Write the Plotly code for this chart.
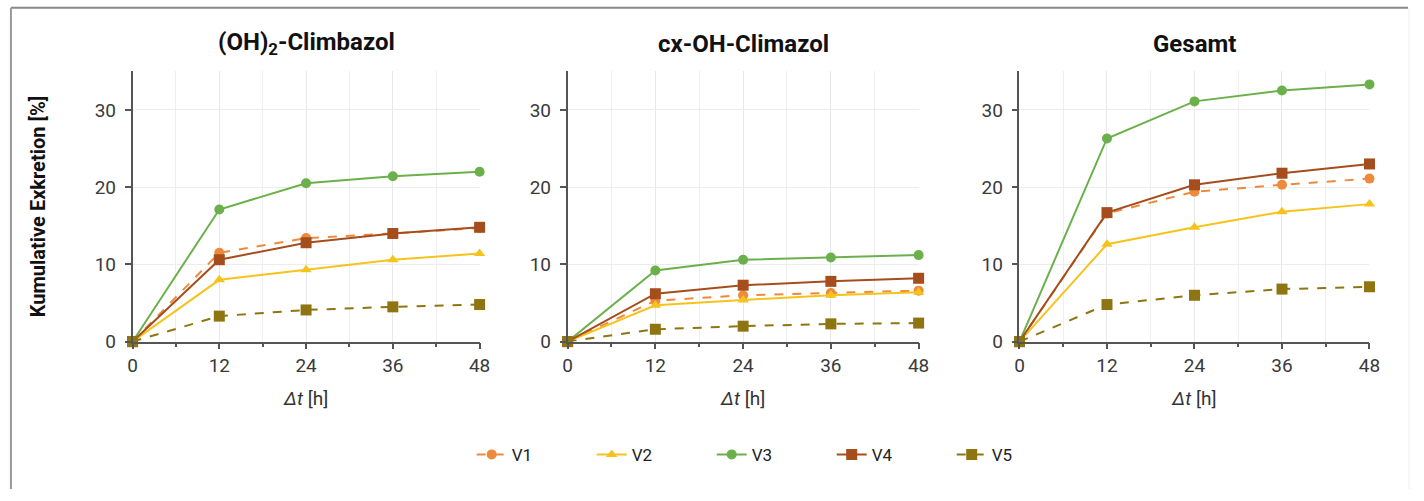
import plotly.graph_objects as go

hours = [0, 12, 24, 36, 48]
panel_titles = ["(OH)<sub>2</sub>-Climbazol", "cx-OH-Climazol", "Gesamt"]
series_names = ["V1", "V2", "V3", "V4", "V5"]

# panel 1: (OH)2-Climbazol
p1_v1 = [0, 11.5, 13.4, 14.0, 14.7]
p1_v2 = [0, 8.0, 9.3, 10.6, 11.4]
p1_v3 = [0, 17.1, 20.5, 21.4, 22.0]
p1_v4 = [0, 10.6, 12.8, 14.0, 14.8]
p1_v5 = [0, 3.3, 4.1, 4.5, 4.8]
# panel 2: cx-OH-Climazol
p2_v1 = [0, 5.3, 6.0, 6.3, 6.6]
p2_v2 = [0, 4.7, 5.4, 6.0, 6.4]
p2_v3 = [0, 9.2, 10.6, 10.9, 11.2]
p2_v4 = [0, 6.2, 7.3, 7.8, 8.2]
p2_v5 = [0, 1.6, 2.0, 2.3, 2.4]
# panel 3: Gesamt
p3_v1 = [0, 16.6, 19.4, 20.3, 21.1]
p3_v2 = [0, 12.6, 14.8, 16.8, 17.8]
p3_v3 = [0, 26.3, 31.1, 32.5, 33.3]
p3_v4 = [0, 16.7, 20.3, 21.8, 23.0]
p3_v5 = [0, 4.8, 6.0, 6.8, 7.1]

x_ticks = [0, 12, 24, 36, 48]
y_ticks = [0, 10, 20, 30]

panels = [
    [p1_v1, p1_v2, p1_v3, p1_v4, p1_v5],
    [p2_v1, p2_v2, p2_v3, p2_v4, p2_v5],
    [p3_v1, p3_v2, p3_v3, p3_v4, p3_v5],
]

colors = ["#EE8A3C", "#F6C31C", "#6CB04C", "#A64D1E", "#8E7512"]
dashes = ["dash", "solid", "solid", "solid", "dash"]
symbols = ["circle", "triangle-up", "circle", "square", "square"]
msizes = [10, 10, 10, 11, 11]

W, H = 1424, 501
x_px = [(129, 480), (569, 924), (1026, 1380)]
y_bot, y_top = 350, 73

fig = go.Figure()

for pi, data in enumerate(panels):
    ax = "" if pi == 0 else str(pi + 1)
    for si, vals in enumerate(data):
        fig.add_trace(go.Scatter(
            x=hours, y=vals, name=series_names[si],
            mode="lines+markers",
            line=dict(color=colors[si], width=2, dash=dashes[si]),
            marker=dict(symbol=symbols[si], size=msizes[si], color=colors[si]),
            xaxis="x" + ax, yaxis="y" + ax,
            showlegend=(pi == 0), legendgroup=series_names[si],
            cliponaxis=False,
        ))

layout = dict(
    width=W, height=H,
    paper_bgcolor="white", plot_bgcolor="white",
    margin=dict(l=0, r=0, t=0, b=0),
    font=dict(family="Roboto, 'Noto Sans', sans-serif", color="#333"),
    showlegend=True,
    legend=dict(orientation="h", x=472 / W, xanchor="left", y=1 - 466 / H, yanchor="middle",
                font=dict(size=17, color="#222"), entrywidth=75, entrywidthmode="pixels",
                tracegroupgap=0),
)

annotations = []
shapes = []
for pi in range(3):
    ax = "" if pi == 0 else str(pi + 1)
    x0, x1 = x_px[pi]
    layout["xaxis" + ax] = dict(
        domain=[x0 / W, x1 / W], range=[0, 48], anchor="y" + ax,
        tickvals=x_ticks, ticks="outside", ticklen=6, tickwidth=1.5, tickcolor="#555",
        showline=True, linecolor="#555", linewidth=1.5,
        showgrid=True, gridcolor="#E8E8E8", gridwidth=1,
        minor=dict(dtick=6, tick0=0, ticks="outside", ticklen=4, tickcolor="#555",
                   showgrid=True, gridcolor="#EFEFEF"),
        tickfont=dict(size=19, color="#3a3a3a"), zeroline=False,
        title=dict(text="<i>Δt</i> [h]", font=dict(size=19, color="#333"), standoff=16),
    )
    layout["yaxis" + ax] = dict(
        domain=[1 - y_bot / H, 1 - y_top / H], range=[0, 35], anchor="x" + ax,
        tickvals=y_ticks, ticks="outside", ticklen=6, tickwidth=1.5, tickcolor="#555",
        showline=True, linecolor="#555", linewidth=1.5,
        showgrid=True, gridcolor="#ECECEC", gridwidth=1,
        tickfont=dict(size=19, color="#3a3a3a"), zeroline=False, ticklabelstandoff=5,
    )
    annotations.append(dict(
        text="<b>" + panel_titles[pi] + "</b>", x=(x0 + x1) / 2 / W, y=1 - 45 / H,
        xref="paper", yref="paper", showarrow=False, xanchor="center", yanchor="middle",
        font=dict(size=24, color="#111"),
    ))

layout["yaxis"]["title"] = dict(text="<b>Kumulative Exkretion [%]</b>",
                                font=dict(size=20, color="#111"), standoff=44)

# outer frame
shapes.append(dict(type="line", xref="paper", yref="paper", x0=6 / W, x1=1419 / W,
                   y0=1 - 8 / H, y1=1 - 8 / H, line=dict(color="#888", width=2)))
shapes.append(dict(type="line", xref="paper", yref="paper", x0=6 / W, x1=6 / W,
                   y0=0, y1=1 - 8 / H, line=dict(color="#999", width=2)))
shapes.append(dict(type="line", xref="paper", yref="paper", x0=1420 / W, x1=1420 / W,
                   y0=0, y1=1 - 8 / H, line=dict(color="#EEE", width=1)))

layout["annotations"] = annotations
layout["shapes"] = shapes
fig.update_layout(**layout)

fig.write_html("out.html", config={"displayModeBar": False},
               post_script="document.body.style.margin='0px';document.body.style.overflow='hidden';")
